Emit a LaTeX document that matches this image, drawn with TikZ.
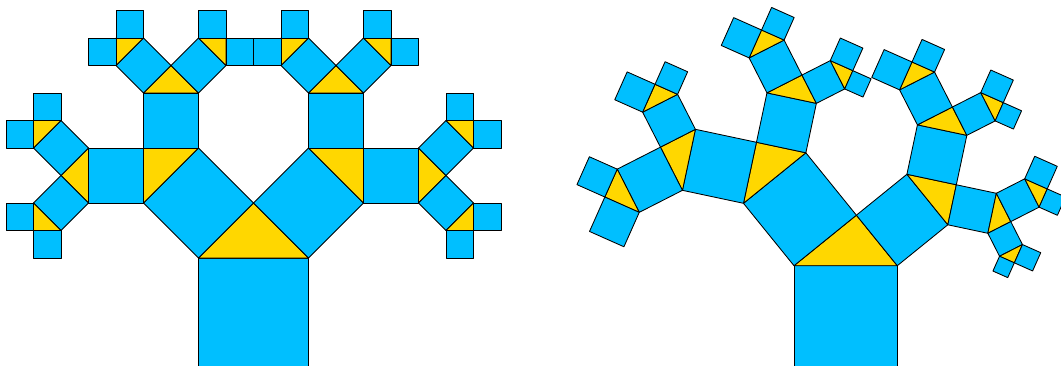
\documentclass[tikz,border=0pt]{standalone}
\usetikzlibrary{calc}

\definecolor{leafblue}{RGB}{0,191,255}
\definecolor{wedgegold}{RGB}{255,215,0}

% one square, its wedge and the two smaller trees on the wedge
\newcommand\pytree[2]{%
  \draw[branch] (0,0) rectangle (1,1);
  \ifnum#1>0
    \draw[wedge] (0,1) -- ({cos(#2)^2},{1+cos(#2)*sin(#2)}) -- (1,1) -- cycle;
    \begin{scope}[shift={(0,1)},rotate=#2,scale={cos(#2)}]
      \pytree{\numexpr#1-1\relax}{#2}
    \end{scope}
    \begin{scope}[shift={({cos(#2)^2},{1+cos(#2)*sin(#2)})},rotate=#2-90,scale={sin(#2)}]
      \pytree{\numexpr#1-1\relax}{#2}
    \end{scope}
  \fi}

\begin{document}
\begin{tikzpicture}[x=1pt,y=1pt,
  branch/.style={fill=leafblue,draw=black,line width=.85pt,line join=round},
  wedge/.style={fill=wedgegold,draw=black,line width=.85pt,line join=round}
]
\clip (0,0) rectangle (1061,365);
% symmetric tree
\begin{scope}[shift={(198.5,-3)},scale=110]
  \pytree{4}{45}
\end{scope}
% skewed tree
\begin{scope}[shift={(794,-4)},scale=103.3]
  \pytree{4}{39}
\end{scope}
\end{tikzpicture}
\end{document}
